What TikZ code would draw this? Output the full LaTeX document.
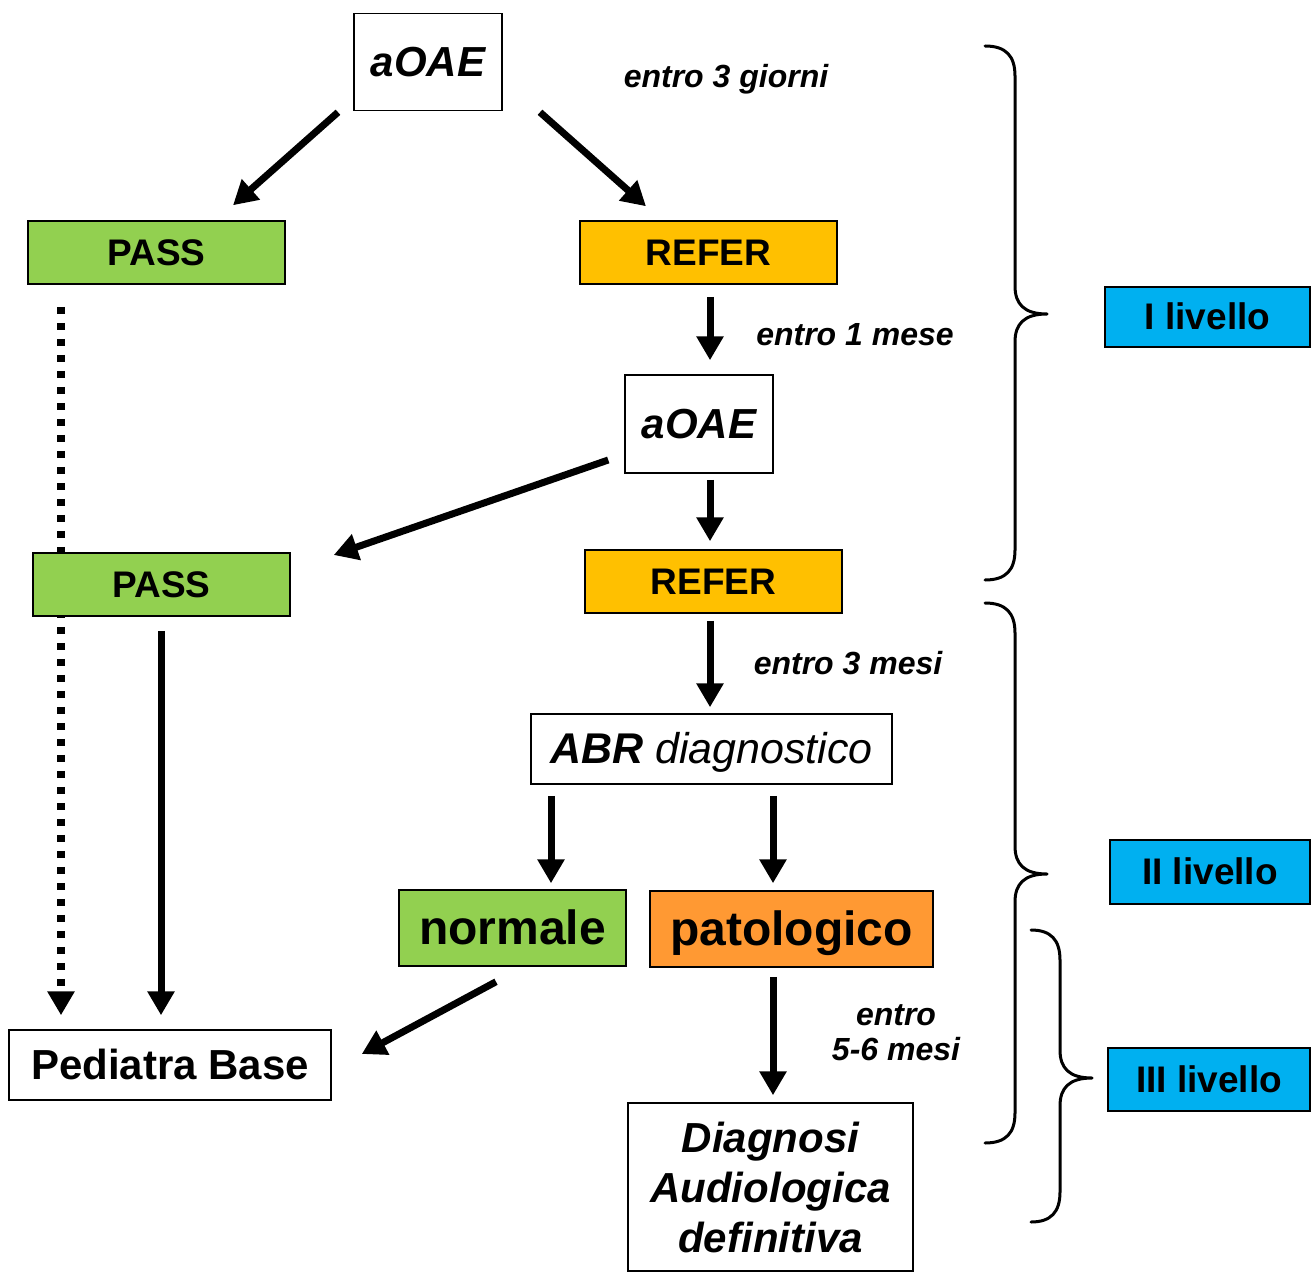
\documentclass[tikz,border=0pt]{standalone}
\usepackage{fontspec}
\setmainfont{Liberation Sans}
\usetikzlibrary{arrows.meta,calc,backgrounds}
\definecolor{cgreen}{HTML}{92D050}
\definecolor{cyellow}{HTML}{FFC000}
\definecolor{corange}{HTML}{FF9933}
\definecolor{cblue}{HTML}{00B0F0}
\tikzset{
  box/.style={draw=black, line width=1.5pt, inner sep=0pt, align=center, text=black},
  mid/.style={execute at begin node={\rule[-0.212em]{0pt}{1.117em}}},
  big/.style={font=\fontsize{42}{50}\selectfont\bfseries\itshape},
  tag/.style={mid, font=\fontsize{37}{40}\selectfont\bfseries},
  huge/.style={mid, font=\fontsize{48}{52}\selectfont\bfseries},
  lvl/.style={box, mid, fill=cblue, font=\fontsize{37}{40}\selectfont\bfseries},
  lbl/.style={inner sep=0pt, align=center, font=\fontsize{32}{35}\selectfont\bfseries\itshape},
  arr/.style={line width=7pt, -{Triangle[length=24pt,width=26pt]}},
  dotarr/.style={line width=8pt, line cap=butt, dash pattern=on 7pt off 9pt, -{Triangle[length=24pt,width=26pt]}},
  bracepath/.style={line width=3pt, line cap=round, line join=round},
}
\begin{document}
\begin{tikzpicture}[x=1pt,y=-1pt]
\useasboundingbox (0,0) rectangle (1311,1281);

% nodes
\node[box, big, mid, minimum width=148pt, minimum height=97pt] (a1) at (428,62) {aOAE};
\node[box, tag, fill=cgreen, minimum width=257pt, minimum height=63pt] (p1) at (156.5,252.5) {PASS};
\node[box, tag, fill=cyellow, minimum width=257pt, minimum height=63pt] (r1) at (708.5,252.5) {REFER};
\node[box, big, mid, minimum width=148pt, minimum height=98pt] (a2) at (699,424) {aOAE};
\node[box, tag, fill=cyellow, minimum width=257pt, minimum height=63pt] (r2) at (713.5,581.5) {REFER};
\node[box, tag, fill=cgreen, minimum width=257pt, minimum height=63pt] (p2) at (161.5,584.5) {PASS};
\node[box, mid, font=\fontsize{43}{48}\selectfont\itshape, minimum width=361pt, minimum height=70pt] (abr) at (711.5,749) {\textbf{ABR} diagnostico};
\node[box, huge, fill=cgreen, minimum width=227pt, minimum height=76pt] (nor) at (512.5,928) {normale};
\node[box, huge, fill=corange, minimum width=283pt, minimum height=76pt] (pat) at (791.5,929) {patologico};
\node[box, mid, font=\fontsize{42}{50}\selectfont\bfseries, minimum width=322pt, minimum height=70pt] (ped) at (170,1065) {Pediatra Base};
\node[box, big, minimum width=285pt, minimum height=168pt] (dia) at (770.5,1187) {Diagnosi\\Audiologica\\definitiva};

\node[lvl, minimum width=205pt, minimum height=60pt] (l1) at (1207.5,317) {I livello};
\node[lvl, minimum width=200pt, minimum height=64pt] (l2) at (1210,872) {II livello};
\node[lvl, minimum width=202pt, minimum height=63pt] (l3) at (1209,1079.5) {III livello};

% labels
\node[lbl, mid] (t1) at (726,76) {entro 3 giorni};
\node[lbl, mid] (t2) at (855,334) {entro 1 mese};
\node[lbl, mid] (t3) at (848,663) {entro 3 mesi};
\node[lbl] (t4) at (896,1033) {entro\\5-6 mesi};

% connectors
\begin{pgfonlayer}{background}
\draw[dotarr] ($(p1.south)+(-95.5,22)$) -- ($(ped.north)+(-109,-14)$);
\end{pgfonlayer}
\draw[arr] ($(a1.south)+(-90,1)$) -- ($(p1.north)+(76.5,-15)$);
\draw[arr] ($(a1.south)+(112,1)$) -- ($(r1.north)+(-62.5,-14)$);
\draw[arr] ($(r1.south)+(1.5,12)$) -- ($(a2.north)+(11,-14)$);
\draw[arr] ($(a2.west)+(-16,36)$) -- ($(p2.east)+(43,-29.5)$);
\draw[arr] ($(a2.south)+(11,6)$) -- ($(r2.north)+(-3.5,-8)$);
\draw[arr] ($(r2.south)+(-3.5,7)$) -- ($(abr.north)+(-1.5,-6)$);
\draw[arr] ($(abr.south)+(-160.5,11)$) -- ($(nor.north)+(38.5,-6)$);
\draw[arr] ($(abr.south)+(61.5,11)$) -- ($(pat.north)+(-18.5,-7)$);
\draw[arr] ($(pat.south)+(-18.5,9)$) -- ($(dia.north)+(2.5,-7)$);
\draw[arr] ($(nor.south)+(-16.5,15)$) -- ($(ped.east)+(30,-11)$);
\draw[arr] ($(p2.south)+(-0.5,14)$) -- ($(ped.north)+(-9,-14)$);

% braces
\draw[bracepath] (985,46) .. controls (1006,46) and (1015,56) .. (1015,76)
  -- (1015,286) .. controls (1015,304) and (1024,314) .. (1047,314)
  .. controls (1024,314) and (1015,324) .. (1015,342)
  -- (1015,550) .. controls (1015,570) and (1006,580) .. (985,580);
\draw[bracepath] (985,603) .. controls (1006,603) and (1015,613) .. (1015,633)
  -- (1015,846) .. controls (1015,864) and (1024,874) .. (1047,874)
  .. controls (1024,874) and (1015,884) .. (1015,902)
  -- (1015,1113) .. controls (1015,1133) and (1006,1143) .. (985,1143);
\draw[bracepath] (1031,930) .. controls (1051,930) and (1060,940) .. (1060,960)
  -- (1060,1050) .. controls (1060,1068) and (1069,1078) .. (1092,1078)
  .. controls (1069,1078) and (1060,1088) .. (1060,1106)
  -- (1060,1192) .. controls (1060,1212) and (1051,1222) .. (1031,1222);
\end{tikzpicture}
\end{document}
